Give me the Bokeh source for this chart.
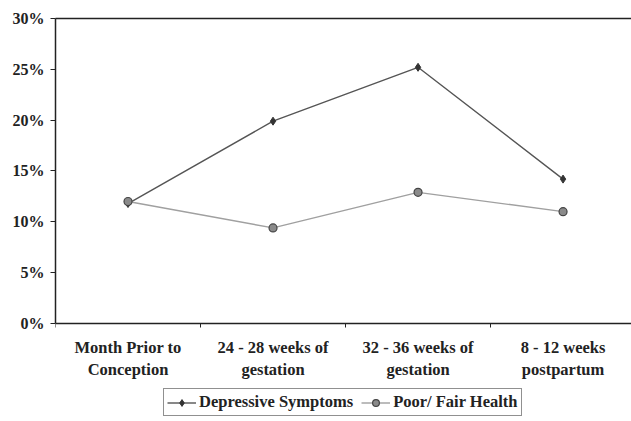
from bokeh.plotting import figure
from bokeh.models import (FixedTicker, NumeralTickFormatter, Range1d, Legend, LegendItem,
                          LinearAxis, ColumnDataSource)
from bokeh.core.properties import value
from bokeh.embed import file_html
from bokeh.resources import INLINE

categories = ["Month Prior to\nConception", "24 - 28 weeks of\ngestation",
              "32 - 36 weeks of\ngestation", "8 - 12 weeks\npostpartum"]
depressive = [0.118, 0.199, 0.252, 0.142]
poor_fair = [0.120, 0.094, 0.129, 0.110]
y_ticks = [0.0, 0.05, 0.10, 0.15, 0.20, 0.25, 0.30]

xs = [i + 0.5 for i in range(len(categories))]
bounds_x = [float(i) for i in range(len(categories))]

FONT = "Liberation Serif"
INK = "#222222"

# frame extends below the 0% line so that labels and legend sit inside it
p = figure(frame_width=576, frame_height=398, output_backend="svg", toolbar_location=None,
           x_range=Range1d(0, 3.972), y_range=Range1d(-0.0915, 0.30),
           min_border_left=55, min_border_top=18, min_border_right=0, min_border_bottom=0)
p.xgrid.visible = False
p.ygrid.visible = False
p.outline_line_color = None
p.background_fill_color = "white"
p.border_fill_color = "white"

l1 = p.line(xs, depressive, line_color="#555555", line_width=1.4)
m1 = p.scatter(xs, depressive, marker="diamond", size=8, fill_color="#333333", line_color="#333333")
l2 = p.line(xs, poor_fair, line_color="#a0a0a0", line_width=1.4)
m2 = p.scatter(xs, poor_fair, marker="circle", size=8, fill_color="#8a8a8a", line_color="#444444", line_width=1.2)

# category labels (text glyphs placed under the 0% line)
src = ColumnDataSource(dict(x=xs, y=[0.0] * len(xs), t=categories))
p.text(x="x", y="y", text="t", source=src, y_offset=15,
       text_font=value(FONT), text_font_style="bold", text_font_size="16.5px",
       text_color=INK, text_align="center", text_baseline="top", text_line_height=1.12)

# x axis drawn at 0%
p.xaxis.fixed_location = 0
p.xaxis.ticker = FixedTicker(ticks=[], minor_ticks=bounds_x)
p.xaxis.major_label_text_font_size = "0px"
p.xaxis.major_label_standoff = 0
p.xaxis.major_tick_out = 0
p.xaxis.major_tick_in = 0
p.xaxis.minor_tick_out = 4
p.xaxis.minor_tick_in = 0
p.xaxis.minor_tick_line_color = INK
p.xaxis.axis_line_color = INK
p.xaxis.axis_line_width = 1.5

# top border line
top = LinearAxis(ticker=FixedTicker(ticks=[]), major_label_text_font_size="0px",
                 major_tick_out=0, major_tick_in=0, minor_tick_out=0, minor_tick_in=0,
                 major_label_standoff=0, axis_line_color=INK, axis_line_width=1.5)
p.add_layout(top, "above")

p.yaxis.ticker = FixedTicker(ticks=y_ticks)
p.yaxis.bounds = (0, 0.30)
p.yaxis.formatter = NumeralTickFormatter(format="0%")
p.yaxis.major_tick_out = 5
p.yaxis.major_tick_in = 0
p.yaxis.minor_tick_out = 0
p.yaxis.minor_tick_in = 0
p.yaxis.major_label_text_font = FONT
p.yaxis.major_label_text_font_style = "bold"
p.yaxis.major_label_text_font_size = "16px"
p.yaxis.major_label_text_color = INK
p.yaxis.major_label_standoff = 6
p.yaxis.axis_line_color = INK
p.yaxis.axis_line_width = 1.5
p.yaxis.major_tick_line_color = INK

legend = Legend(items=[LegendItem(label="Depressive Symptoms", renderers=[l1, m1]),
                       LegendItem(label="Poor/ Fair Health", renderers=[l2, m2])],
                orientation="horizontal", location=(108, 0))
legend.label_text_font = FONT
legend.label_text_font_style = "bold"
legend.label_text_font_size = "16.5px"
legend.label_text_color = INK
legend.border_line_color = INK
legend.border_line_width = 1.2
legend.padding = 3
legend.spacing = 8
legend.margin = 0
legend.glyph_width = 29
legend.label_standoff = 3
legend.label_height = 17
legend.glyph_height = 17
p.add_layout(legend, "center")

open("out.html", "w").write(file_html(p, INLINE))
